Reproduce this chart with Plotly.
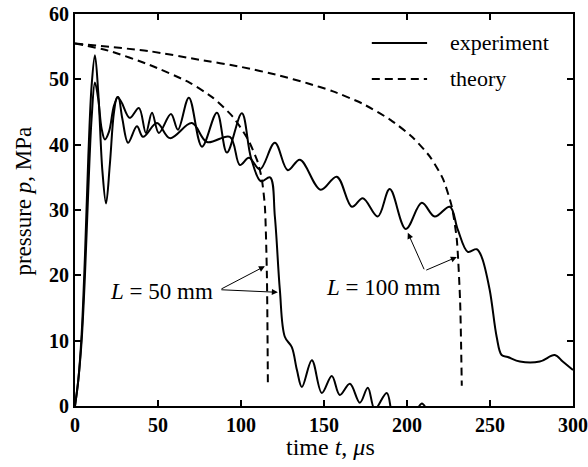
import plotly.graph_objects as go

# Experiment, L = 50 mm (time in microseconds, pressure in MPa)
t_exp50 = [0, 2, 4, 6, 8, 10, 12, 14, 16.5, 18.7, 21, 23.5, 25.5, 28, 33, 38.5, 42.7, 46.4, 50.5,
           57.8, 62, 68.6, 76.5, 85.5, 91.5, 100.5, 106, 112, 117.5, 120.4, 123.4, 126.4, 130.6,
           133.7, 136.7, 142.7, 148.7, 154.7, 159.5, 165.6, 171.6, 176.4, 180.6, 187.8, 192, 198,
           205, 209, 213, 220]
p_exp50 = [0, 4, 11, 23, 38, 49, 53.7, 48, 36, 31, 37, 45, 47.3, 46.5, 44.1, 45.6, 41.8, 44.9, 41.8,
           44.7, 42.3, 47.2, 39.7, 44.9, 38.8, 44.8, 38, 34.4, 35, 29, 17.8, 10.6, 9,
           5.5, 2.9, 7, 2, 4.6, 1.7, 3.4, 0.5, 2.8, -0.5, 2, -2, -3,
           -1, 0.4, -1, -3]

# Experiment, L = 100 mm
t_exp100 = [0, 2, 4, 6, 8, 10, 12, 14, 16, 18, 20.5, 23.5, 26, 28.5, 32, 37.3, 41, 49.4, 57.2, 70.4,
            79.5, 93.3, 99.3, 104.8, 111.4, 120.4, 128.2, 135.5, 148, 157.7, 166.8, 173.4, 182.4,
            189.6, 199.3, 208.9, 216.7, 225.8, 230.6, 236.6, 242, 245, 249.8, 254, 257, 260.7,
            268, 280, 289, 293.8, 300]
p_exp100 = [0, 4, 10, 20, 33, 44, 49.5, 47, 42.5, 40.8, 42, 46, 47.3, 44, 40.3, 42.8, 41.2, 43.3, 41, 43.3,
            40.4, 41.2, 36.9, 38, 36.2, 40.3, 36.1, 37.7, 33.1, 35.1, 30.5, 31.8, 29,
            33.2, 27.1, 31.1, 29, 30.5, 27, 23.6, 24, 22.8, 17.8, 10.6, 7.8, 7.5,
            6.8, 6.8, 7.8, 6.8, 5.5]

# Theory, L = 50 mm
t_th50 = [0, 20, 45, 69, 83, 95, 104, 110, 112.5, 114.4, 115.6, 116.2]
p_th50 = [55.5, 54.4, 52.2, 49.5, 47.2, 44.3, 40.9, 37.4, 34.8, 30.5, 20, 3.1]

# Theory, L = 100 mm
t_th100 = [0, 45, 75, 100, 123, 140, 155, 173, 190, 203.5, 214, 221.6, 227, 230, 232, 233]
p_th100 = [55.5, 54.3, 53.0, 51.9, 50.6, 49.4, 48.2, 46.3, 43.8, 41.1, 38.1, 34.8, 30.5, 25.5, 16, 3.1]

legend_labels = ["experiment", "theory"]
x_ticks = [0, 50, 100, 150, 200, 250, 300]
y_ticks = [0, 10, 20, 30, 40, 50, 60]

SERIF = "'Liberation Serif', 'Times New Roman', Times, serif"
fig = go.Figure()

for t, p in [(t_exp50, p_exp50), (t_exp100, p_exp100)]:
    fig.add_trace(go.Scatter(x=t, y=p, mode="lines", showlegend=False,
                             line=dict(color="black", width=2, shape="spline", smoothing=1.0)))
for t, p in [(t_th50, p_th50), (t_th100, p_th100)]:
    fig.add_trace(go.Scatter(x=t, y=p, mode="lines", showlegend=False,
                             line=dict(color="black", width=2, dash="8px,5px",
                                       shape="spline", smoothing=0.6)))

axis_common = dict(showline=True, linecolor="black", linewidth=2, mirror="allticks",
                   ticks="inside", ticklen=6, tickwidth=1.5, tickcolor="black",
                   showgrid=False, zeroline=False,
                   tickfont=dict(family=SERIF, size=20, color="black", weight="bold"))

fig.update_layout(
    width=588, height=467,
    margin=dict(l=75, r=15, t=14, b=61, autoexpand=False),
    plot_bgcolor="white", paper_bgcolor="white",
    xaxis=dict(range=[0, 300], tickmode="array", tickvals=x_ticks, **axis_common),
    yaxis=dict(range=[0, 60], tickmode="array", tickvals=y_ticks, **axis_common),
)

# Axis titles
fig.add_annotation(text="time <i>t</i>, <i>μ</i>s", xref="paper", yref="paper",
                   x=0.514, y=-0.105, xanchor="center", yanchor="middle", showarrow=False,
                   font=dict(family=SERIF, size=24, color="black"))
fig.add_annotation(text="pressure <i>p</i>, MPa", xref="paper", yref="paper",
                   x=-0.104, y=0.522, xanchor="center", yanchor="middle", showarrow=False,
                   textangle=-90, font=dict(family=SERIF, size=23, color="black"))

# Legend drawn by hand
fig.add_shape(type="line", xref="paper", yref="paper", x0=0.596, x1=0.707, y0=0.926, y1=0.926,
              line=dict(color="black", width=2))
fig.add_shape(type="line", xref="paper", yref="paper", x0=0.596, x1=0.707, y0=0.834, y1=0.834,
              line=dict(color="black", width=2, dash="8px,5px"))
for label, yy in zip(legend_labels, [0.928, 0.836]):
    fig.add_annotation(text=label, xref="paper", yref="paper", x=0.748, y=yy,
                       xanchor="left", yanchor="middle", showarrow=False,
                       font=dict(family=SERIF, size=22, color="black"))

# L labels
fig.add_annotation(text="<i>L</i> = 50 mm", x=52, y=17.5, showarrow=False,
                   font=dict(family=SERIF, size=23, color="black"))
fig.add_annotation(text="<i>L</i> = 100 mm", x=185.7, y=18.1, showarrow=False,
                   font=dict(family=SERIF, size=23, color="black"))

arrows = [((114.4, 21.4), (87.3, 17.8)), ((122.2, 17.4), (87.3, 17.8)),
          ((200.5, 26.5), (210.7, 20.7)), ((230, 22.8), (210.7, 20.7))]
for (hx, hy), (tx, ty) in arrows:
    fig.add_annotation(text="", x=hx, y=hy, ax=tx, ay=ty, axref="x", ayref="y",
                       showarrow=True, arrowhead=2, arrowsize=1.2, arrowwidth=1, arrowcolor="black")

fig.write_html("out.html")
